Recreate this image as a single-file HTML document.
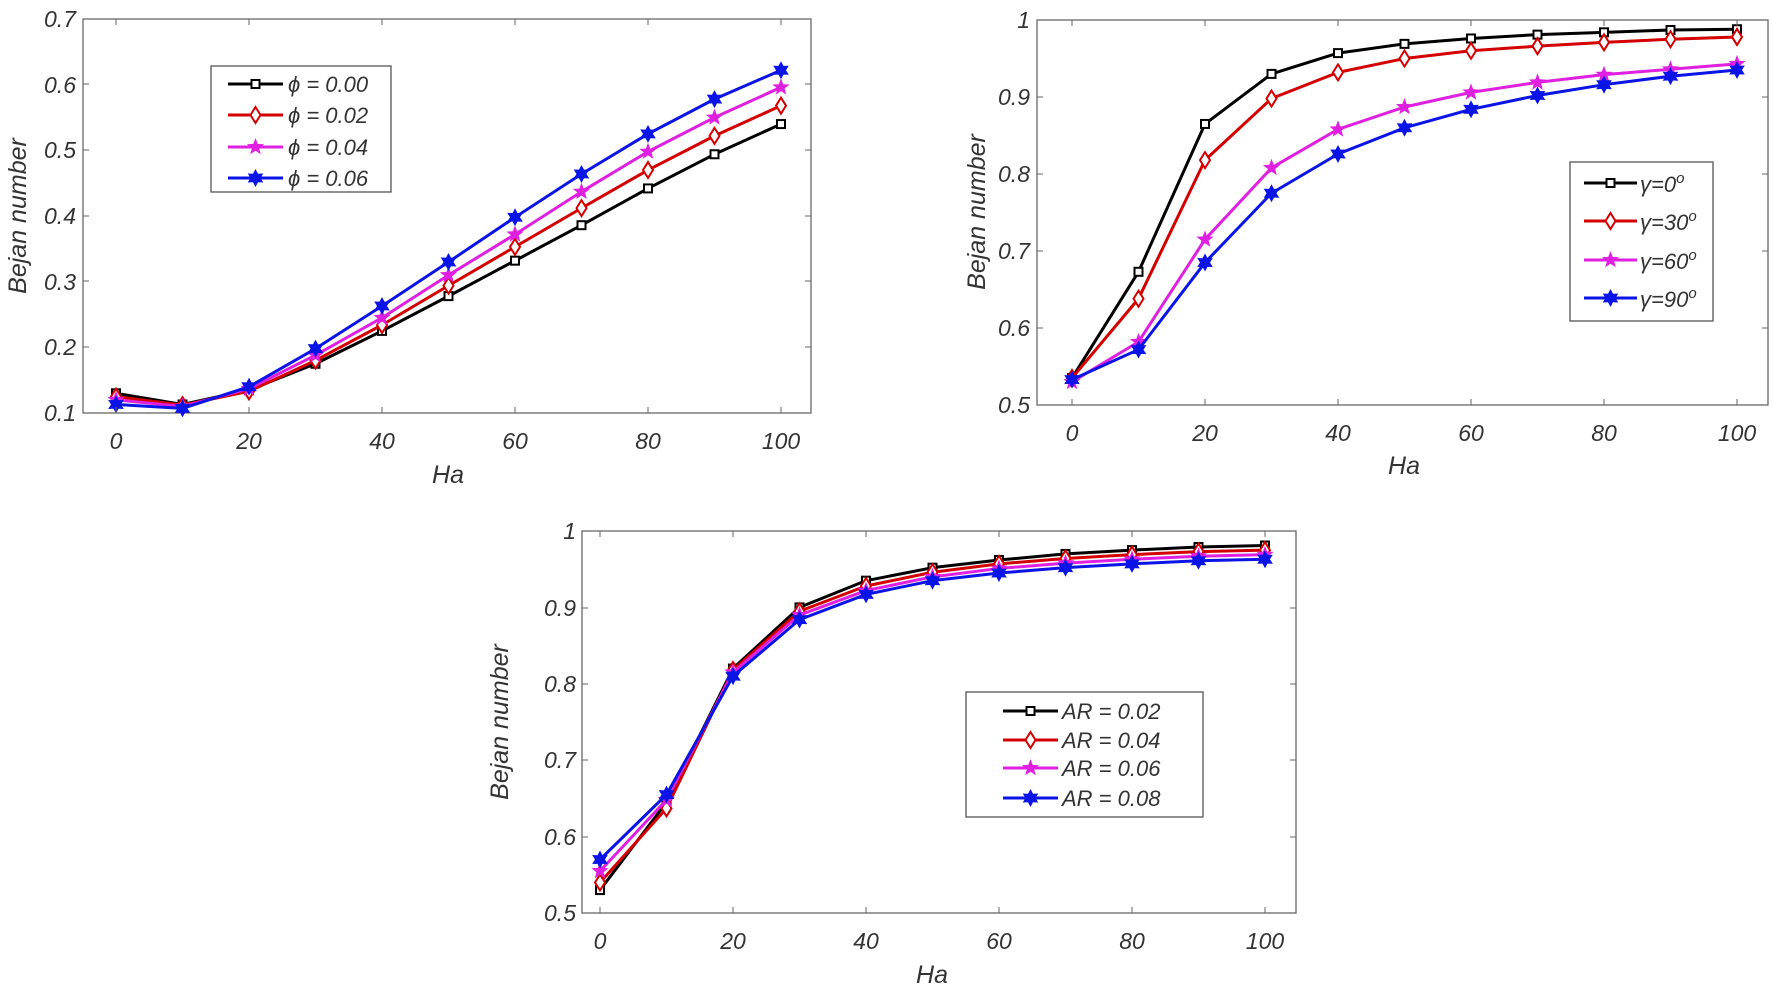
<!DOCTYPE html>
<html><head><meta charset="utf-8"><style>
html,body{margin:0;padding:0;background:#fff;}
svg{display:block;}
text{font-family:"Liberation Sans",sans-serif;font-style:italic;fill:#333;}
.t{font-size:23px;}
.lab{font-size:25px;}
.lg{font-size:22px;fill:#222;}
</style></head><body>
<svg id="s" width="1772" height="991" viewBox="0 0 1772 991" xmlns="http://www.w3.org/2000/svg">
<rect width="1772" height="991" fill="#fff"/>
<!-- Plot 1 -->
<rect x="83" y="19" width="728" height="394" fill="none" stroke="#666" stroke-width="1.3"/>
<g class="t" text-anchor="end">
<text x="76" y="421">0.1</text><text x="76" y="355">0.2</text><text x="76" y="290">0.3</text><text x="76" y="224">0.4</text><text x="76" y="158">0.5</text><text x="76" y="93">0.6</text><text x="76" y="27">0.7</text></g>
<g class="t" text-anchor="middle">
<text x="116" y="449">0</text><text x="249" y="449">20</text><text x="382" y="449">40</text><text x="515" y="449">60</text><text x="648" y="449">80</text><text x="781" y="449">100</text></g>
<text class="lab" x="448" y="483" text-anchor="middle">Ha</text>
<text class="lab" transform="translate(26,216) rotate(-90)" text-anchor="middle">Bejan number</text>
<!-- Plot 2 -->
<rect x="1037" y="20" width="731" height="385" fill="none" stroke="#666" stroke-width="1.3"/>
<g class="t" text-anchor="end">
<text x="1030" y="413">0.5</text><text x="1030" y="336">0.6</text><text x="1030" y="259">0.7</text><text x="1030" y="182">0.8</text><text x="1030" y="105">0.9</text><text x="1030" y="28">1</text></g>
<g class="t" text-anchor="middle">
<text x="1072" y="441">0</text><text x="1205" y="441">20</text><text x="1338" y="441">40</text><text x="1471" y="441">60</text><text x="1604" y="441">80</text><text x="1737" y="441">100</text></g>
<text class="lab" x="1404" y="474" text-anchor="middle">Ha</text>
<text class="lab" transform="translate(985,212) rotate(-90)" text-anchor="middle">Bejan number</text>
<!-- Plot 3 -->
<rect x="582" y="531" width="714" height="382" fill="none" stroke="#666" stroke-width="1.3"/>
<g class="t" text-anchor="end">
<text x="576" y="921">0.5</text><text x="576" y="845">0.6</text><text x="576" y="768">0.7</text><text x="576" y="692">0.8</text><text x="576" y="616">0.9</text><text x="576" y="539">1</text></g>
<g class="t" text-anchor="middle">
<text x="600" y="949">0</text><text x="733" y="949">20</text><text x="866" y="949">40</text><text x="999" y="949">60</text><text x="1132" y="949">80</text><text x="1265" y="949">100</text></g>
<text class="lab" x="932" y="983" text-anchor="middle">Ha</text>
<text class="lab" transform="translate(508,722) rotate(-90)" text-anchor="middle">Bejan number</text>
<!-- legends -->
<rect x="211" y="66" width="180" height="126" fill="#fff" stroke="#555" stroke-width="1.3"/>
<g class="lg"><text x="288" y="92">ϕ = 0.00</text><text x="288" y="123">ϕ = 0.02</text><text x="288" y="155">ϕ = 0.04</text><text x="288" y="186">ϕ = 0.06</text></g>
<rect x="1570" y="162" width="143" height="159" fill="#fff" stroke="#555" stroke-width="1.3"/>
<g class="lg"><text x="1640" y="192">γ=0<tspan dy="-9" font-size="15">o</tspan></text><text x="1640" y="230">γ=30<tspan dy="-9" font-size="15">o</tspan></text><text x="1640" y="269">γ=60<tspan dy="-9" font-size="15">o</tspan></text><text x="1640" y="307">γ=90<tspan dy="-9" font-size="15">o</tspan></text></g>
<rect x="966" y="692" width="237" height="125" fill="#fff" stroke="#555" stroke-width="1.3"/>
<g class="lg"><text x="1062" y="719">AR = 0.02</text><text x="1062" y="748">AR = 0.04</text><text x="1062" y="776">AR = 0.06</text><text x="1062" y="806">AR = 0.08</text></g>
<g id="g"></g>
</svg>
<script>
var NS="http://www.w3.org/2000/svg",G=document.getElementById("g");
function el(t,a){var e=document.createElementNS(NS,t);for(var k in a)e.setAttribute(k,a[k]);G.appendChild(e);return e;}
var cols=["#000","#d40000","#e020e0","#0a14e6"];
function star(cx,cy,n,R,r){var p=[];for(var i=0;i<2*n;i++){var a=Math.PI*i/n-Math.PI/2,rr=i%2?r:R;p.push((cx+rr*Math.cos(a)).toFixed(1)+","+(cy+rr*Math.sin(a)).toFixed(1));}return p.join(" ");}
function mk(k,x,y,s){var c=cols[k];s=s||1;
 if(k==0)el("rect",{x:x-4*s,y:y-4*s,width:8*s,height:8*s,fill:"#fff",stroke:c,"stroke-width":2});
 else if(k==1)el("polygon",{points:[x,y-8*s,x+5*s,y,x,y+8*s,x-5*s,y].join(" "),fill:"#fff",stroke:c,"stroke-width":2});
 else if(k==2)el("polygon",{points:star(x,y,5,9*s,3.8*s),fill:c});
 else el("polygon",{points:star(x,y,6,9*s,5*s),fill:c});}
function plot(x0,x1,y0,y1,v0,v1,data){
 data.forEach(function(d,k){var pts=d.map(function(v,i){return [x0+(x1-x0)*i/10,y0+(y1-y0)*(v-v0)/(v1-v0)];});
  el("polyline",{points:pts.map(function(p){return p.join(",")}).join(" "),fill:"none",stroke:cols[k],"stroke-width":3,"stroke-linejoin":"round"});
  pts.forEach(function(p){mk(k,p[0],p[1]);});});}
plot(116,781,413,19,0.1,0.7,[
[.13,.113,.135,.175,.225,.278,.332,.386,.442,.494,.54],
[.125,.112,.133,.18,.234,.294,.353,.412,.47,.522,.568],
[.12,.11,.137,.188,.245,.31,.372,.437,.498,.55,.596],
[.113,.107,.14,.198,.263,.33,.398,.464,.525,.578,.622]]);
plot(1072,1737,405,20,0.5,1,[
[.535,.673,.865,.93,.957,.969,.976,.981,.984,.987,.988],
[.535,.638,.818,.898,.932,.95,.96,.966,.971,.975,.978],
[.53,.582,.715,.808,.858,.887,.906,.919,.929,.936,.943],
[.533,.572,.685,.775,.826,.86,.884,.902,.916,.927,.935]]);
plot(600,1265,913,531,0.5,1,[
[.53,.645,.82,.9,.935,.952,.962,.97,.975,.979,.981],
[.54,.637,.818,.895,.928,.946,.957,.964,.969,.973,.975],
[.555,.648,.815,.89,.922,.94,.951,.958,.963,.967,.969],
[.57,.655,.81,.884,.917,.935,.945,.952,.957,.961,.963]]);
function leg(x0,x1,ys){ys.forEach(function(y,k){el("line",{x1:x0,y1:y,x2:x1,y2:y,stroke:cols[k],"stroke-width":3});mk(k,(x0+x1)/2,y);});}
leg(228,283,[84,115,147,178]);
leg(1584,1637,[183,221,260,298]);
leg(1003,1058,[711,740,768,798]);
// ticks
function ticks(x0,x1,y0,y1,xs,ys){xs.forEach(function(x){el("line",{x1:x,y1:y0,x2:x,y2:y0-6,stroke:"#666"});el("line",{x1:x,y1:y1,x2:x,y2:y1+6,stroke:"#666"});});
 ys.forEach(function(y){el("line",{x1:x0,y1:y,x2:x0+6,y2:y,stroke:"#666"});el("line",{x1:x1,y1:y,x2:x1-6,y2:y,stroke:"#666"});});}
ticks(83,811,413,19,[116,249,382,515,648,781],[347,281,216,150,84]);
ticks(1037,1768,405,20,[1072,1205,1338,1471,1604,1737],[328,251,174,97]);
ticks(582,1296,913,531,[600,733,866,999,1132,1265],[837,760,684,608]);
</script>
</body></html>
